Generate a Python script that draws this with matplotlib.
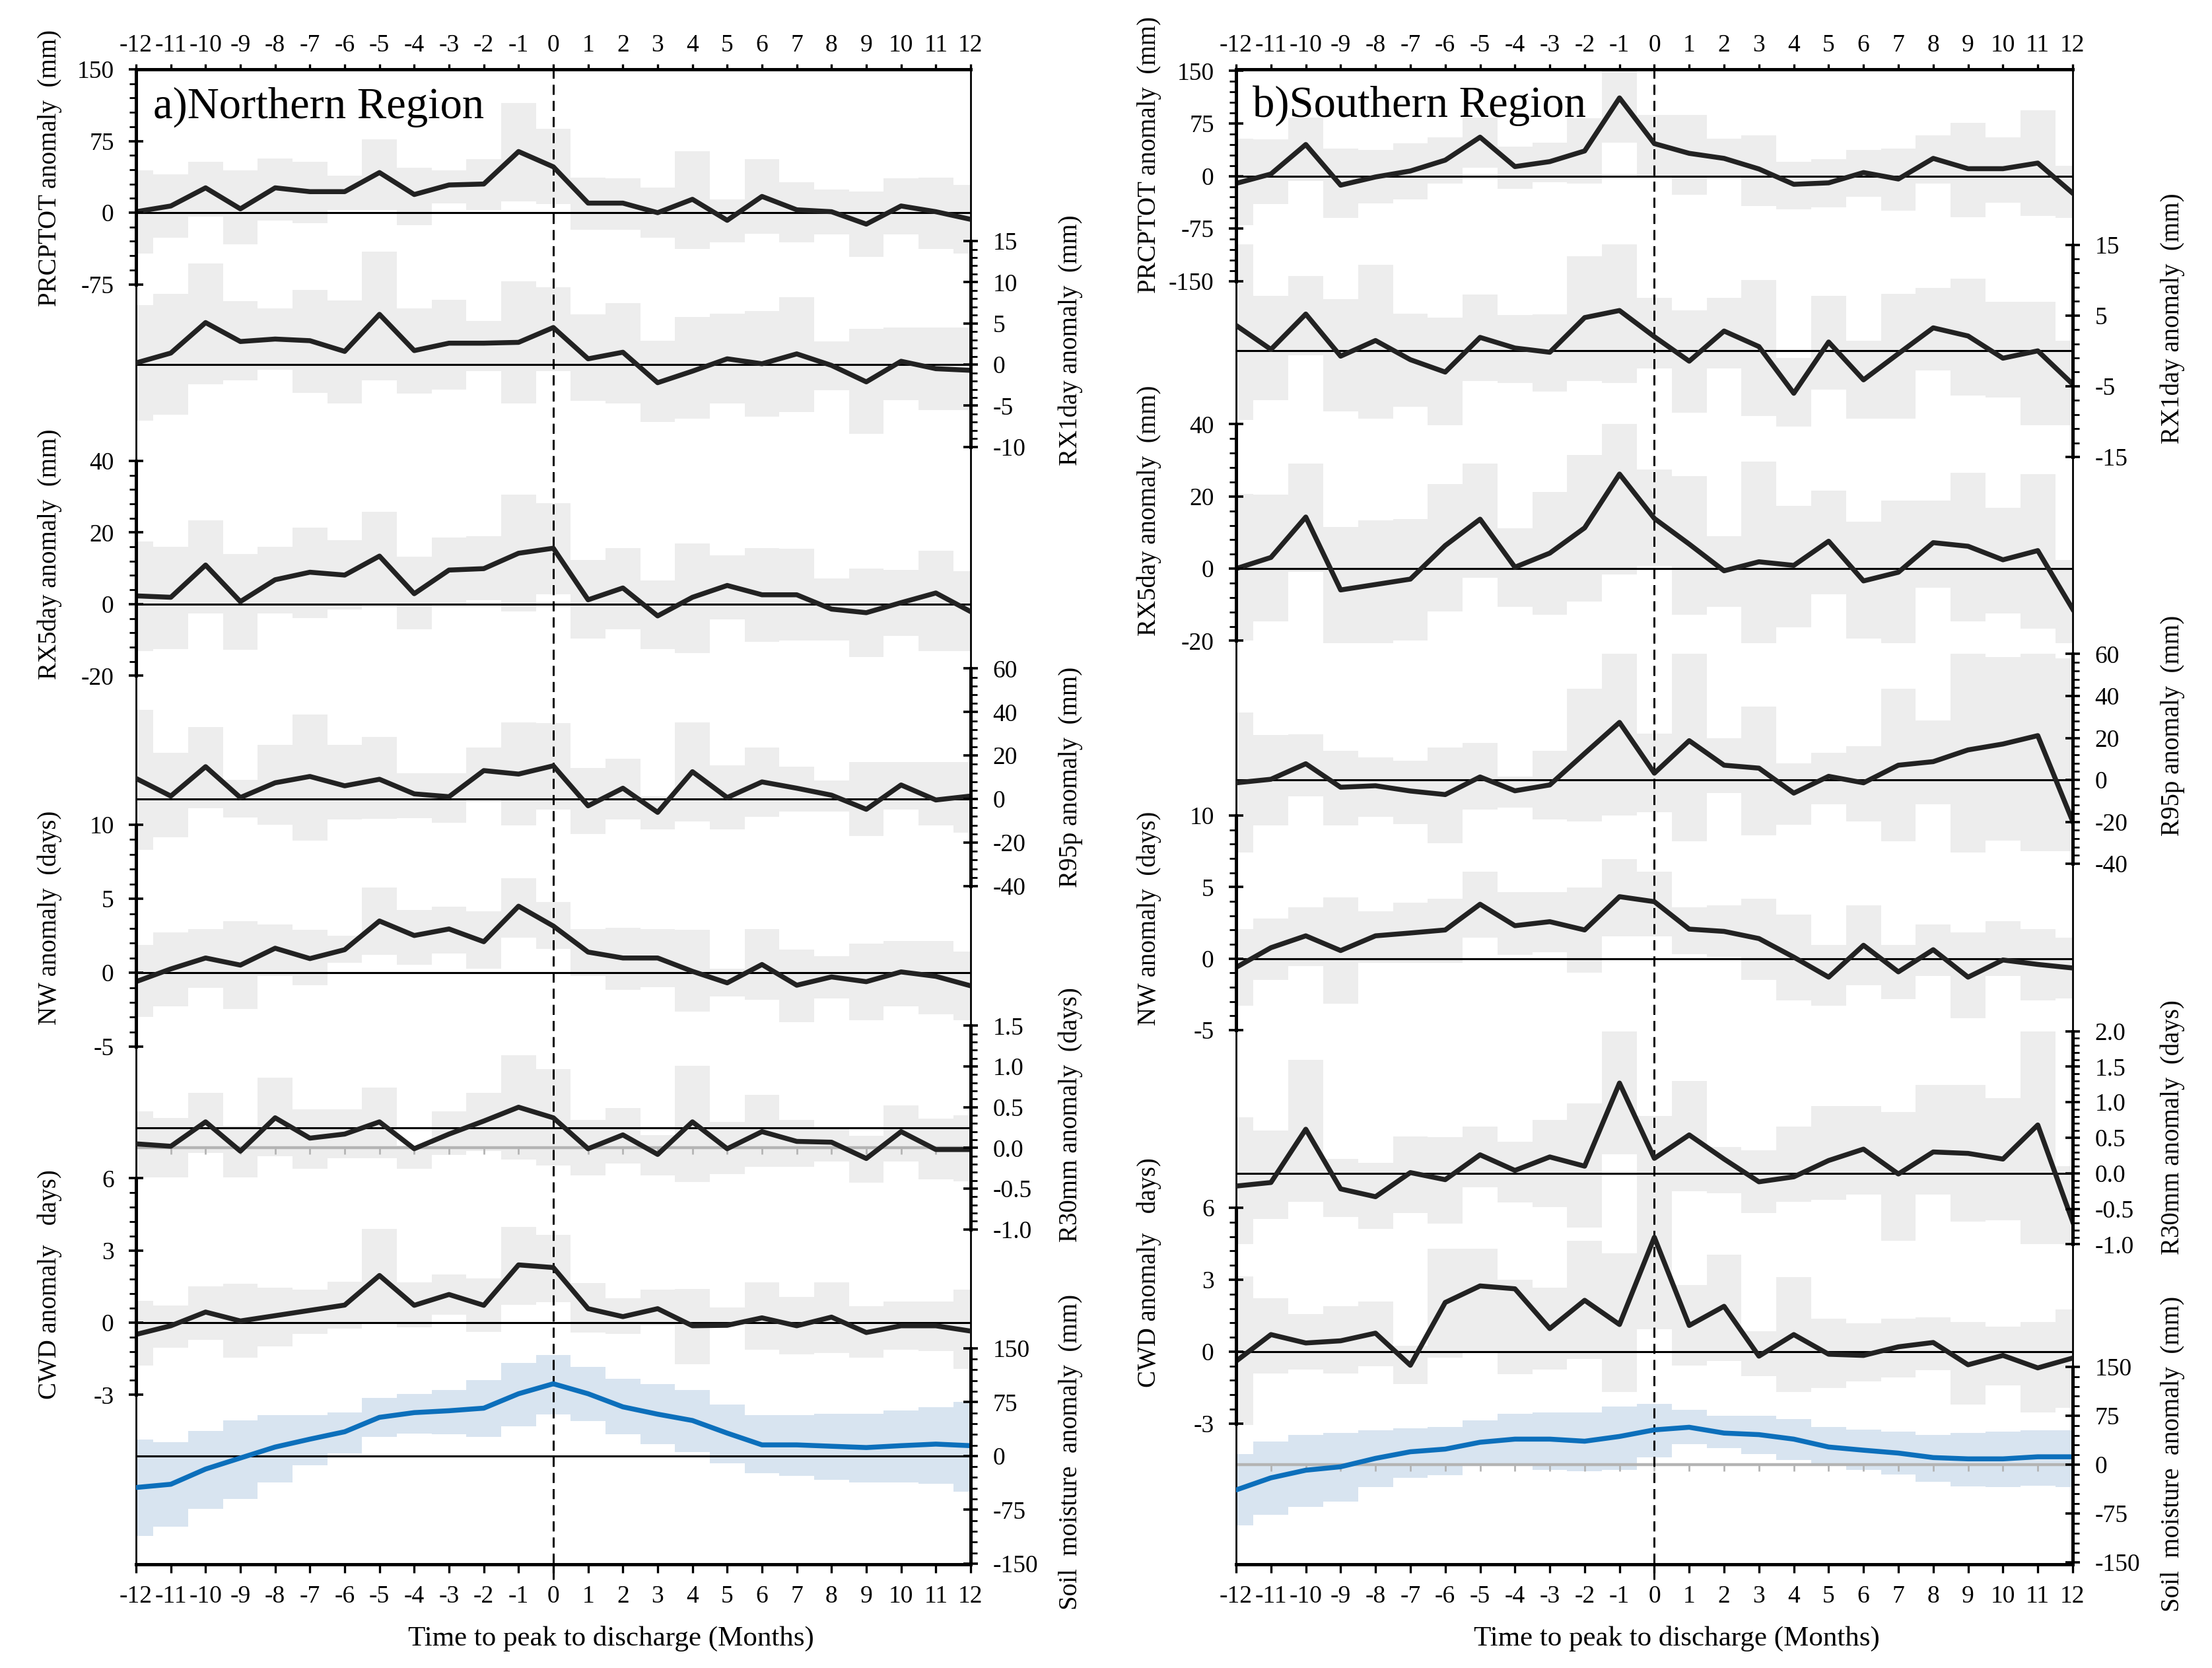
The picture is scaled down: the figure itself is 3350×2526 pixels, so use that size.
import numpy as np
import matplotlib
matplotlib.use('Agg')
import matplotlib.pyplot as plt
import matplotlib.transforms as mtransforms
from matplotlib.ticker import FixedLocator, FormatStrFormatter

plt.rcParams['font.family'] = ['Liberation Serif', 'DejaVu Serif']
plt.rcParams['axes.unicode_minus'] = False

months = np.arange(-12, 13)

# ---- a) Northern Region ----
a_prcptot = [1, 7, 26, 4, 26, 22, 22, 42, 19, 29, 30, 64, 48, 10, 10, 0, 14, -8, 17, 3, 1, -12, 7, 1, -7]
a_prcptot_hi = [44, 40, 53, 44, 57, 53, 39, 77, 47, 44, 56, 115, 88, 37, 36, 26, 64, 14, 56, 32, 24, 22, 36, 37, 29]
a_prcptot_lo = [-43, -26, -4, -33, -8, -11, 3, 3, -13, 10, 3, 12, 9, -18, -18, -26, -38, -31, -22, -31, -23, -46, -23, -38, -43]

a_rx1 = [0.2, 1.4, 5.1, 2.8, 3.1, 2.9, 1.6, 6.1, 1.7, 2.6, 2.6, 2.7, 4.5, 0.7, 1.5, -2.2, -0.8, 0.7, 0.1, 1.3, -0.1, -2.1, 0.4, -0.5, -0.7]
a_rx1_hi = [7.2, 8.6, 12.3, 7.7, 6.8, 9.1, 7.8, 13.7, 6.8, 7.9, 5.3, 10.1, 9.4, 6.1, 7.5, 2.9, 5.8, 6.2, 6.5, 8.2, 2.8, 4.3, 4.5, 4.5, 4.5]
a_rx1_lo = [-6.8, -6.1, -2.4, -1.9, -0.6, -3.4, -4.7, -1.9, -3.5, -3.0, -0.8, -4.7, -0.8, -4.4, -4.7, -7.0, -6.6, -4.7, -6.3, -5.8, -3.1, -8.4, -4.3, -5.5, -5.5]

a_rx5 = [2.3, 1.9, 10.9, 0.7, 6.8, 8.9, 8.1, 13.4, 2.9, 9.5, 9.9, 14.2, 15.6, 1.2, 4.5, -3.3, 1.9, 5.2, 2.6, 2.6, -1.4, -2.4, 0.4, 3.1, -2.1]
a_rx5_hi = [17.5, 16.1, 23.3, 14.0, 16.1, 21.4, 17.9, 25.8, 13.2, 18.5, 18.9, 30.5, 28.2, 12.3, 15.7, 6.6, 17.0, 13.6, 15.7, 15.4, 7.2, 10.0, 9.5, 14.9, 9.1]
a_rx5_lo = [-13.1, -12.5, -2.7, -12.7, -2.7, -3.9, -1.6, -0.3, -7.0, -0.3, 1.1, -2.0, 2.7, -9.6, -7.0, -12.6, -13.6, -4.3, -10.5, -10.2, -10.2, -14.8, -8.8, -13.1, -13.1]

a_r95 = [9.5, 1.4, 14.9, 0.7, 7.5, 10.4, 6.1, 9.1, 2.4, 1.1, 13.1, 11.5, 15.3, -3.1, 5.0, -6.1, 12.6, 0.7, 7.9, 5.0, 1.8, -4.7, 6.5, -0.4, 1.4]
a_r95_hi = [40.9, 21.3, 33.2, 8.8, 24.8, 38.9, 24.8, 28.5, 11.8, 11.8, 23.7, 35.2, 34.8, 14.2, 18.6, 1.4, 35.2, 15.6, 23.7, 14.9, 8.4, 16.9, 16.9, 16.9, 16.9]
a_r95_lo = [-23.4, -17.6, -4.1, -8.5, -11.8, -19.0, -9.5, -9.1, -8.8, -10.8, 0.0, -12.2, -4.7, -15.9, -9.5, -13.8, -10.2, -13.8, -8.1, -5.8, -5.8, -16.9, -4.7, -12.2, -15.3]

a_nw = [-0.6, 0.26, 1.0, 0.52, 1.66, 0.96, 1.56, 3.5, 2.52, 2.96, 2.1, 4.5, 3.16, 1.4, 1.0, 1.0, 0.1, -0.68, 0.56, -0.84, -0.28, -0.6, 0.06, -0.24, -0.88]
a_nw_hi = [1.9, 2.72, 2.96, 3.5, 3.26, 2.9, 2.52, 5.76, 4.26, 4.46, 4.16, 6.4, 4.8, 2.96, 3.06, 2.96, 2.9, 0.26, 2.96, 1.56, 1.12, 1.96, 2.16, 2.16, 1.44]
a_nw_lo = [-3.0, -2.28, -1.04, -2.44, -0.2, -0.84, 0.66, 1.2, 0.56, 1.32, 0.26, 2.36, 1.62, -0.2, -1.14, -0.98, -2.64, -1.6, -1.8, -3.34, -1.74, -3.2, -2.28, -2.8, -3.2]

a_r30 = [0.05, 0.02, 0.32, -0.04, 0.37, 0.12, 0.17, 0.32, -0.01, 0.17, 0.33, 0.5, 0.37, -0.01, 0.16, -0.08, 0.32, -0.01, 0.2, 0.08, 0.07, -0.13, 0.2, -0.02, -0.02]
a_r30_hi = [0.45, 0.37, 0.68, 0.27, 0.86, 0.47, 0.47, 0.74, 0.03, 0.45, 0.68, 1.14, 0.97, 0.34, 0.49, 0.16, 1.01, 0.32, 0.65, 0.34, 0.25, 0.15, 0.52, 0.36, 0.4]
a_r30_lo = [-0.36, -0.36, -0.06, -0.36, -0.1, -0.26, -0.13, -0.13, -0.26, -0.09, -0.04, -0.14, -0.22, -0.34, -0.19, -0.34, -0.42, -0.32, -0.23, -0.23, -0.17, -0.43, -0.17, -0.39, -0.41]

a_cwd = [-0.49, -0.13, 0.44, 0.07, 0.29, 0.51, 0.73, 1.96, 0.72, 1.17, 0.72, 2.4, 2.29, 0.58, 0.25, 0.58, -0.13, -0.11, 0.2, -0.13, 0.23, -0.41, -0.13, -0.13, -0.35]
a_cwd_hi = [0.9, 0.7, 1.5, 1.63, 1.45, 1.38, 1.7, 3.9, 1.67, 2.0, 1.85, 3.97, 3.64, 1.64, 1.02, 1.37, 1.4, 0.62, 1.67, 1.08, 1.67, 0.68, 0.88, 0.88, 1.37]
a_cwd_lo = [-1.79, -1.05, -0.72, -1.46, -0.99, -0.46, -0.26, -0.02, -0.19, 0.33, -0.39, 0.75, 0.86, -0.41, -0.46, -0.1, -1.73, -0.02, -1.12, -1.32, -1.27, -1.46, -1.12, -1.18, -1.92]

a_soil = [-44, -39.5, -18.3, -2.9, 12.4, 23.4, 33.7, 53.8, 60.4, 63, 66.6, 86.7, 100.6, 86.7, 68.4, 58.2, 49.4, 31.8, 15.4, 15.4, 13.5, 11.7, 14.3, 16.5, 14.3]
a_soil_hi = [22.7, 19, 34.8, 49.4, 56.7, 56.7, 60.4, 80.5, 86.7, 92.2, 105.7, 129.5, 140.5, 124, 107.6, 100.6, 91.5, 71.3, 56.7, 56.7, 58.5, 58.5, 63, 67.7, 75.7]
a_soil_lo = [-111.6, -98.8, -73.5, -59.6, -37, -12.8, 3.3, 27, 31.5, 30, 27, 41, 58.2, 49, 30, 16.1, 5.1, -10.2, -23.8, -27.8, -32.9, -37, -37, -38.8, -49.8]

# ---- b) Southern Region ----
b_prcptot = [-10.5, 2.9, 45, -13, -1.3, 7.2, 22.7, 55.5, 13.5, 20.6, 35.8, 111.5, 46.3, 32.4, 25.2, 10.1, -11.8, -9.7, 5, -4.2, 25.2, 10.5, 10.5, 18.5, -24.4]
b_prcptot_hi = [53.4, 52.2, 83.7, 39.5, 37.4, 46.3, 55.5, 83.7, 41.6, 48, 82.9, 160, 87, 87, 53.4, 57.6, 20.6, 24, 37.4, 39.5, 57.6, 75.7, 55.5, 93.4, 14.3]
b_prcptot_lo = [-69.8, -40.4, -6.7, -60.2, -39.1, -33.7, -10.9, 12.2, -18.1, -8.8, -10.5, 48, -1, -26.5, -0.4, -42.5, -47.5, -44.6, -29.9, -49.6, -10.5, -58.9, -38.3, -56.8, -60.2]

b_rx1 = [3.6, 0.2, 5.2, -0.75, 1.46, -1.25, -3.0, 1.9, 0.4, -0.2, 4.7, 5.7, 2.0, -1.46, 2.8, 0.6, -6.0, 1.25, -4.1, -0.4, 3.25, 2.1, -1.04, 0.0, -4.7]
b_rx1_hi = [15.1, 7.8, 10.6, 7.3, 12.2, 5.3, 4.7, 8.0, 5.1, 5.2, 13.4, 15.1, 7.5, 5.75, 7.5, 10.0, -0.96, 7.8, 1.46, 8.1, 8.9, 10.2, 6.9, 6.9, 1.4]
b_rx1_lo = [-9.8, -7.0, -0.6, -8.6, -9.6, -7.9, -10.5, -4.25, -4.5, -5.8, -4.25, -4.5, -2.5, -8.7, -2.5, -9.2, -10.7, -5.5, -9.6, -9.6, -2.8, -6.3, -6.6, -10.5, -10.5]

b_rx5 = [0, 3.1, 14.3, -5.9, -4.4, -2.9, 6.4, 13.7, 0.4, 4.3, 11.3, 26.2, 13.9, 6.8, -0.6, 1.9, 0.9, 7.6, -3.4, -1.0, 7.2, 6.2, 2.45, 5.0, -11.2]
b_rx5_hi = [20.7, 20.5, 29.2, 11.5, 13.3, 13.7, 23.5, 29.2, 11.1, 21.2, 31.4, 40, 27.4, 25.7, 9, 29.6, 17.4, 21.7, 13.1, 18.8, 18.8, 26.5, 16.8, 26.2, 2.4]
b_rx5_lo = [-20, -14.6, -0.8, -20.6, -20.6, -20, -11.8, -2.6, -10.5, -12.7, -9.1, -1.6, 0.8, -12.7, -10.5, -20.6, -16.2, -7.1, -19.3, -20.6, -5.3, -14.6, -12.4, -16.7, -20.6]

b_r95 = [-1.4, 0.3, 7.7, -3.5, -2.8, -5.3, -7.0, 1.4, -5.2, -2.4, 12.6, 27.4, 3.2, 18.7, 7.0, 5.6, -6.3, 1.7, -1.4, 7.0, 8.7, 14.3, 17.1, 21.1, -19.7]
b_r95_hi = [32, 21.5, 21.8, 14, 10.8, 9.1, 15.4, 17.6, 1.7, 14, 43.5, 60, 22.2, 60, 19.9, 34.8, 8, 12.9, 16.2, 43.5, 28.4, 60, 58.4, 60, 58]
b_r95_lo = [-34.7, -21.8, -7.7, -21.8, -17.6, -21.1, -30.2, -14.3, -13.3, -19, -19.7, -16.9, -15.4, -29.2, -6.3, -26.5, -21.5, -11.5, -19.7, -29.2, -11.5, -34.7, -29, -34, -34]

b_nw = [-0.62, 0.76, 1.59, 0.56, 1.59, 1.79, 2.0, 3.8, 2.3, 2.58, 2.0, 4.33, 3.98, 2.06, 1.9, 1.4, 0.1, -1.3, 0.93, -0.93, 0.62, -1.3, -0.1, -0.41, -0.66]
b_nw_hi = [2.06, 2.82, 3.6, 4.29, 3.3, 3.92, 4.19, 6.08, 4.64, 4.64, 4.95, 6.97, 6.08, 3.6, 3.71, 4.19, 3.09, 0.97, 3.71, 0.97, 2.37, 1.81, 2.62, 2.06, 1.48]
b_nw_lo = [-3.3, -1.5, -0.52, -3.15, -0.31, -0.31, -0.31, 1.48, 0.27, 0.45, -0.97, 1.55, 1.55, 0.31, 0.14, -1.48, -2.95, -3.3, -1.86, -2.82, -1.2, -4.19, -1.2, -2.95, -2.78]

b_r30 = [-0.18, -0.13, 0.62, -0.22, -0.33, 0.01, -0.09, 0.26, 0.04, 0.23, 0.1, 1.27, 0.21, 0.54, 0.2, -0.12, -0.05, 0.18, 0.34, -0.01, 0.3, 0.28, 0.2, 0.68, -0.68]
b_r30_hi = [0.79, 0.6, 1.6, 0.2, 0.15, 0.52, 0.51, 0.66, 0.44, 0.75, 0.98, 2.0, 0.81, 1.3, 0.37, 0.32, 0.66, 0.95, 0.95, 0.86, 1.24, 1.24, 1.06, 2.0, 0.1]
b_r30_lo = [-1.0, -0.64, -0.4, -0.62, -0.78, -0.56, -0.71, -0.2, -0.41, -0.48, -0.76, 0.27, -0.49, -0.25, -0.28, -0.56, -0.4, -0.37, -0.3, -0.95, -0.3, -0.68, -0.66, -1.0, -1.0]

b_cwd = [-0.4, 0.71, 0.36, 0.45, 0.77, -0.57, 2.05, 2.74, 2.62, 0.96, 2.14, 1.13, 4.77, 1.09, 1.89, -0.19, 0.71, -0.11, -0.16, 0.2, 0.38, -0.55, -0.16, -0.68, -0.27]
b_cwd_hi = [3.15, 2.22, 1.56, 1.89, 2.08, 0.25, 4.3, 4.3, 3.0, 2.68, 4.63, 4.11, 6.02, 2.77, 4.05, 0.85, 3.12, 1.37, 1.18, 1.37, 1.42, 1.23, 1.04, 1.23, 1.75]
b_cwd_lo = [-3.06, -0.9, -0.75, -0.9, -0.62, -1.36, -0.24, -0.05, -0.95, -0.75, -0.32, -1.68, 0.93, -0.57, -0.38, -1.03, -1.68, -1.52, -1.25, -1.09, -0.77, -2.2, -1.41, -2.54, -2.35]

b_soil = [-38.8, -20.2, -8.5, -3.2, 9.7, 19.8, 23.9, 34.4, 39.2, 39.2, 36, 43.3, 53.4, 57.4, 48.5, 46.1, 39.2, 27.1, 22.2, 17.8, 10.9, 8.9, 8.9, 12.1, 12.1]
b_soil_hi = [16.2, 36, 45.3, 48.5, 52.6, 55.4, 57.4, 67.5, 77.6, 79.7, 79.7, 89, 93.8, 83.7, 74.8, 74.8, 69.6, 57.4, 53.4, 50.5, 45.3, 48.5, 50.5, 52.6, 52.6]
b_soil_lo = [-93, -76.8, -64.7, -57, -34.8, -20.6, -16.2, 2, -0.4, -8.5, -10.5, -8.5, 10.9, 31.9, 25.9, 15.8, 6.9, -2.4, -8.5, -15.4, -26.3, -33.6, -34.8, -32.8, -34.8]

LINE = '#222222'
BAND = '#ededed'
BLUE = '#0c6fbb'
BLUE_BAND = '#d8e4f0'
AXGRAY = '#b4b4b4'

# (label, values, lower, upper, side, ylim, ticks, minor step, label centre, zero style, colour)
series_a = [
    ('PRCPTOT anomaly  (mm)', a_prcptot, a_prcptot_lo, a_prcptot_hi, 'left', (-1415, 150), [-75, 0, 75, 150], 15, 47, 'zero', 'k'),
    ('RX1day anomaly  (mm)', a_rx1, a_rx1_lo, a_rx1_hi, 'right', (-145.7, 35.85), [-10, -5, 0, 5, 10, 15], 1, 3, 'zero', 'k'),
    ('RX5day anomaly  (mm)', a_rx5, a_rx5_lo, a_rx5_hi, 'left', (-268.1, 149.3), [-20, 0, 20, 40], 4, 14, 'zero', 'k'),
    ('R95p anomaly  (mm)', a_r95, a_r95_lo, a_r95_hi, 'right', (-351.7, 335.4), [-40, -20, 0, 20, 40, 60], 4, 10, 'zero', 'k'),
    ('NW anomaly  (days)', a_nw, a_nw_lo, a_nw_hi, 'left', (-39.97, 61.05), [-5, 0, 5, 10], 1, 3.7, 'zero', 'k'),
    ('R30mm anomaly  (days)', a_r30, a_r30_lo, a_r30_hi, 'right', (-5.115, 13.25), [-1.0, -0.5, 0.0, 0.5, 1.0, 1.5], 0.1, 0.41, 'axis_ref', 'k'),
    ('CWD anomaly   days)', a_cwd, a_cwd_lo, a_cwd_hi, 'left', (-10.04, 52.08), [-3, 0, 3, 6], 0.6, 1.6, 'zero', 'k'),
    ('Soil  moisture  anomaly  (mm)', a_soil, a_soil_lo, a_soil_hi, 'right', (-151, 1932.9), [-150, -75, 0, 75, 150], 15, 5, 'zero', 'b'),
]
series_b = [
    ('PRCPTOT anomaly  (mm)', b_prcptot, b_prcptot_lo, b_prcptot_hi, 'left', (-1981, 152.2), [-150, -75, 0, 75, 150], 15, 30, 'zero', 'k'),
    ('RX1day anomaly  (mm)', b_rx1, b_rx1_lo, b_rx1_hi, 'right', (-171.5, 39.78), [-15, -5, 5, 15], 2, 4.6, 'zero', 'k'),
    ('RX5day anomaly  (mm)', b_rx5, b_rx5_lo, b_rx5_hi, 'left', (-275.8, 138.3), [-20, 0, 20, 40], 4, 16, 'zero', 'k'),
    ('R95p anomaly  (mm)', b_r95, b_r95_lo, b_r95_hi, 'right', (-373.8, 338.6), [-40, -20, 0, 20, 40, 60], 4, 26, 'zero', 'k'),
    ('NW anomaly  (days)', b_nw, b_nw_lo, b_nw_hi, 'left', (-42.37, 62.2), [-5, 0, 5, 10], 1, 2.8, 'zero', 'k'),
    ('R30mm anomaly  (days)', b_r30, b_r30_lo, b_r30_hi, 'right', (-5.504, 15.54), [-1.0, -0.5, 0.0, 0.5, 1.0, 1.5, 2.0], 0.1, 0.65, 'zero', 'k'),
    ('CWD anomaly   days)', b_cwd, b_cwd_lo, b_cwd_hi, 'left', (-8.873, 53.5), [-3, 0, 3, 6], 0.6, 3.3, 'zero', 'k'),
    ('Soil  moisture  anomaly  (mm)', b_soil, b_soil_lo, b_soil_hi, 'right', (-152.8, 2141), [-150, -75, 0, 75, 150], 15, 16, 'axis', 'b'),
]

panels = [
    dict(rect=[0.0615, 0.0622, 0.3773, 0.8962], series=series_a, title='a)Northern Region',
         title_xy=(0.0693, 0.9295), xlab_x=0.2761),
    dict(rect=[0.5588, 0.0622, 0.3782, 0.8962], series=series_b, title='b)Southern Region',
         title_xy=(0.5663, 0.9303), xlab_x=0.7579),
]

fig = plt.figure(figsize=(16.75, 12.63), dpi=200)
month_labels = [str(m) for m in months]

for p in panels:
    ax = fig.add_axes(p['rect'])
    ax.set_xlim(months[0], months[-1])
    ax.set_ylim(0, 1)
    ax.set_autoscale_on(False)
    ax.set_xticks(months, labels=month_labels)
    ax.tick_params(axis='x', top=False, bottom=True, direction='out', length=4.5,
                   width=1.2, labelsize=13.5, pad=7)
    for sp in ('left', 'right'):
        ax.spines[sp].set_linewidth(1.0)
    for sp in ('top', 'bottom'):
        ax.spines[sp].set_linewidth(1.8)

    top = ax.secondary_xaxis('top')
    top.set_xticks(months, labels=month_labels)
    top.tick_params(direction='out', length=3, width=1.2, labelsize=13.5, pad=4)
    top.spines['top'].set_linewidth(1.8)

    for (label, vals, lo, hi, side, ylim, ticks, minor, lab_at, zstyle, col) in p['series']:
        tw = ax.twinx()
        tw.set_ylim(*ylim)
        for sp in tw.spines.values():
            sp.set_visible(False)
        spine = tw.spines[side]
        spine.set_visible(True)
        spine.set_linewidth(1.8)
        spine.set_bounds(ticks[0], ticks[-1])
        if side == 'left':
            tw.yaxis.tick_left()
            tw.yaxis.set_label_position('left')
        tw.yaxis.set_major_locator(FixedLocator(ticks))
        tw.yaxis.set_minor_locator(FixedLocator(np.arange(ticks[0], ticks[-1] + minor / 2, minor)))
        tw.yaxis.set_major_formatter(FormatStrFormatter('%.1f' if minor < 0.5 else '%g'))
        tw.tick_params(axis='y', which='major', direction='inout', length=8, width=1.3,
                       labelsize=13.5, pad=8)
        tw.tick_params(axis='y', which='minor', direction='out', length=3.5, width=1.0)
        tw.set_ylabel(label, fontsize=14)
        tw.yaxis.set_label_coords(-0.089 if side == 'left' else 1.105,
                                  (lab_at - ylim[0]) / (ylim[1] - ylim[0]))

        tr = tw.transData
        blend = mtransforms.blended_transform_factory(ax.transAxes, tr)
        ax.fill_between(months, lo, hi, step='mid', color=BLUE_BAND if col == 'b' else BAND,
                        lw=0, transform=tr, zorder=1)
        if zstyle == 'zero':
            ax.plot([0, 1], [0, 0], color='k', lw=1.1, transform=blend, zorder=2)
        else:
            ax.plot(months, np.zeros(len(months)), color=AXGRAY, lw=1.6, marker=3,
                    markersize=3.5, markeredgewidth=1.0, transform=tr, zorder=2)
            if zstyle == 'axis_ref':
                ax.plot([0, 1], [0.25, 0.25], color='k', lw=1.1, transform=blend, zorder=2)
        ax.plot(months, vals, color=BLUE if col == 'b' else LINE, lw=2.7,
                transform=tr, zorder=3)

    ax.yaxis.set_visible(False)
    ax.axvline(0, ymin=-0.01, ymax=1, color='k', lw=1.1, linestyle=(0, (5, 3)),
               clip_on=False, zorder=2.5)

    fig.text(p['title_xy'][0], p['title_xy'][1], p['title'], fontsize=24, va='baseline')
    fig.text(p['xlab_x'], 0.0175, 'Time to peak to discharge (Months)', fontsize=15.5,
             ha='center', va='center')

fig.savefig('out.png', dpi=200)
